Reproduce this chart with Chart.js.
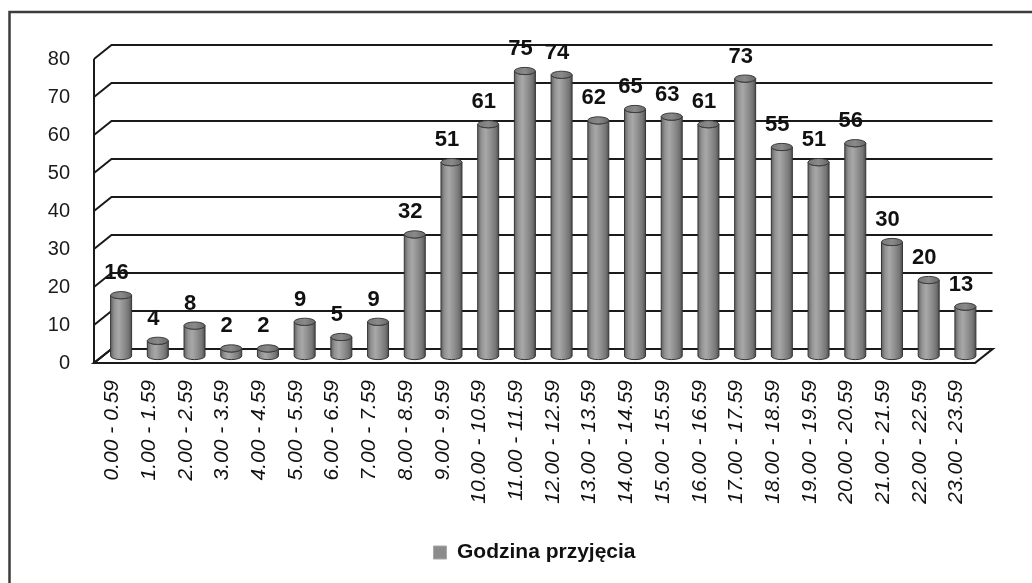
<!DOCTYPE html>
<html>
<head>
<meta charset="utf-8">
<title>Godzina przyjęcia</title>
<script src="https://cdn.jsdelivr.net/npm/chart.js@4.4.1/dist/chart.umd.min.js"></script>
<style>
  html, body { margin: 0; padding: 0; background: #ffffff; }
  #wrap { width: 1032px; height: 583px; position: relative; }
</style>
</head>
<body>
<div id="wrap"><canvas id="chart" width="1032" height="583"></canvas></div>
<script>
// Hour-of-day ranges and number of admissions in each
const hourRanges = [
  '0.00 - 0.59', '1.00 - 1.59', '2.00 - 2.59', '3.00 - 3.59', '4.00 - 4.59', '5.00 - 5.59',
  '6.00 - 6.59', '7.00 - 7.59', '8.00 - 8.59', '9.00 - 9.59', '10.00 - 10.59', '11.00 - 11.59',
  '12.00 - 12.59', '13.00 - 13.59', '14.00 - 14.59', '15.00 - 15.59', '16.00 - 16.59', '17.00 - 17.59',
  '18.00 - 18.59', '19.00 - 19.59', '20.00 - 20.59', '21.00 - 21.59', '22.00 - 22.59', '23.00 - 23.59'
];
const admissions = [16, 4, 8, 2, 2, 9, 5, 9, 32, 51, 61, 75, 74, 62, 65, 63, 61, 73, 55, 51, 56, 30, 20, 13];
const seriesName = 'Godzina przyjęcia';
const yMin = 0;
const yMax = 80;
const yStep = 10;

// Depth of the pseudo-3D box (back wall offset relative to the front plane)
const DEPTH_X = 17.5;
const DEPTH_Y = -14;

const FONT = "'Liberation Sans', Arial, sans-serif";

// White page with the outer chart frame (top and left edges)
const framePlugin = {
  id: 'frame',
  beforeDraw(chart) {
    const ctx = chart.ctx;
    ctx.save();
    ctx.fillStyle = '#ffffff';
    ctx.fillRect(0, 0, chart.width, chart.height);
    ctx.strokeStyle = '#3c3c3c';
    ctx.lineWidth = 2.5;
    ctx.beginPath();
    ctx.moveTo(9.5, chart.height);
    ctx.lineTo(9.5, 12);
    ctx.lineTo(chart.width, 12);
    ctx.stroke();
    ctx.restore();
  }
};

// Back wall grid, side wall and floor of the 3D box
const wallsPlugin = {
  id: 'walls',
  beforeDatasetsDraw(chart) {
    const { ctx, chartArea, scales } = chart;
    const { left, right, top, bottom } = chartArea;
    const y = scales.y;
    ctx.save();
    ctx.strokeStyle = '#1a1a1a';
    ctx.lineJoin = 'miter';

    // floor
    ctx.beginPath();
    ctx.moveTo(left, bottom);
    ctx.lineTo(right, bottom);
    ctx.lineTo(right + DEPTH_X, bottom + DEPTH_Y);
    ctx.lineTo(left + DEPTH_X, bottom + DEPTH_Y);
    ctx.closePath();
    ctx.fillStyle = '#ffffff';
    ctx.fill();
    ctx.lineWidth = 2.2;
    ctx.stroke();

    // left wall edge
    ctx.lineWidth = 2;
    ctx.beginPath();
    ctx.moveTo(left, top);
    ctx.lineTo(left, bottom);
    ctx.stroke();

    // gridlines running across the side wall and the back wall
    y.ticks.forEach(t => {
      const yy = y.getPixelForValue(t.value);
      ctx.beginPath();
      ctx.moveTo(left, yy);
      ctx.lineTo(left + DEPTH_X, yy + DEPTH_Y);
      ctx.lineTo(right + DEPTH_X, yy + DEPTH_Y);
      ctx.stroke();
    });
    ctx.restore();
  }
};

// Cylinders placed half way into the box, with value labels above them
const cylinderPlugin = {
  id: 'cylinders',
  afterDatasetsDraw(chart) {
    const ctx = chart.ctx;
    const meta = chart.getDatasetMeta(0);
    const values = chart.data.datasets[0].data;
    ctx.save();
    meta.data.forEach((el, i) => {
      const p = el.getProps(['x', 'y', 'base', 'width'], true);
      const cx = p.x + DEPTH_X / 2;
      const ty = p.y + DEPTH_Y / 2;
      const by = p.base + DEPTH_Y / 2;
      const rx = p.width / 2;
      const ry = 3.6;

      const body = ctx.createLinearGradient(cx - rx, 0, cx + rx, 0);
      body.addColorStop(0, '#626262');
      body.addColorStop(0.18, '#939393');
      body.addColorStop(0.38, '#a8a8a8');
      body.addColorStop(0.62, '#909090');
      body.addColorStop(0.85, '#767676');
      body.addColorStop(1, '#4e4e4e');

      ctx.beginPath();
      ctx.moveTo(cx - rx, ty);
      ctx.lineTo(cx - rx, by);
      ctx.ellipse(cx, by, rx, ry, 0, Math.PI, 0, true);
      ctx.lineTo(cx + rx, ty);
      ctx.ellipse(cx, ty, rx, ry, 0, 0, Math.PI, false);
      ctx.closePath();
      ctx.fillStyle = body;
      ctx.fill();
      ctx.strokeStyle = '#353535';
      ctx.lineWidth = 1;
      ctx.stroke();

      const cap = ctx.createLinearGradient(cx - rx, 0, cx + rx, 0);
      cap.addColorStop(0, '#777777');
      cap.addColorStop(0.5, '#8a8a8a');
      cap.addColorStop(1, '#666666');
      ctx.beginPath();
      ctx.ellipse(cx, ty, rx, ry, 0, 0, Math.PI * 2);
      ctx.fillStyle = cap;
      ctx.fill();
      ctx.strokeStyle = '#3c3c3c';
      ctx.stroke();

      ctx.font = 'bold 22px ' + FONT;
      ctx.fillStyle = '#111111';
      ctx.textAlign = 'center';
      ctx.textBaseline = 'middle';
      ctx.fillText(String(values[i]), cx - 4.5, ty - 22);
    });
    ctx.restore();
  }
};

new Chart(document.getElementById('chart'), {
  type: 'bar',
  data: {
    labels: hourRanges,
    datasets: [{
      label: seriesName,
      data: admissions,
      backgroundColor: 'rgba(0,0,0,0)',
      borderWidth: 0,
      categoryPercentage: 1,
      barPercentage: 0.572
    }]
  },
  options: {
    responsive: false,
    animation: false,
    devicePixelRatio: 1,
    layout: { padding: { left: 0, right: 57, top: 59, bottom: 10 } },
    scales: {
      x: {
        grid: { display: false, drawTicks: false },
        border: { display: false },
        ticks: {
          autoSkip: false,
          maxRotation: 90,
          minRotation: 90,
          padding: 17,
          color: '#111111',
          font: { family: FONT, size: 21, style: 'italic' }
        },
        afterFit(scale) { scale.height = 169; }
      },
      y: {
        min: yMin,
        max: yMax,
        grid: { display: false, drawTicks: false },
        border: { display: false },
        ticks: {
          stepSize: yStep,
          padding: 24,
          color: '#1a1a1a',
          font: { family: FONT, size: 20 }
        },
        afterFit(scale) { scale.width = 94; }
      }
    },
    plugins: {
      tooltip: { enabled: false },
      legend: {
        position: 'bottom',
        fullSize: false,
        labels: {
          boxWidth: 13,
          boxHeight: 13,
          padding: 10,
          color: '#111111',
          font: { family: FONT, size: 21, weight: 'bold' },
          generateLabels(chart) {
            return Chart.defaults.plugins.legend.labels.generateLabels(chart).map(item => {
              item.fillStyle = '#8c8c8c';
              item.strokeStyle = '#a8a8a8';
              item.lineWidth = 1;
              return item;
            });
          }
        }
      }
    }
  },
  plugins: [framePlugin, wallsPlugin, cylinderPlugin]
});
</script>
</body>
</html>
